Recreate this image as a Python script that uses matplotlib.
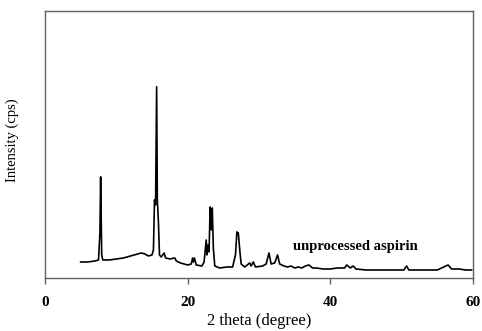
import matplotlib
matplotlib.use("Agg")
import matplotlib.pyplot as plt

# digitized XRD pattern (2 theta in degree, intensity in cps)
two_theta = [5.0, 6.0, 7.0, 7.5, 7.7, 7.8, 7.95, 8.1, 9.0, 10.0, 11.0, 12.0, 13.0, 13.5,
             14.0, 14.5, 15.0, 15.2, 15.35, 15.5, 15.65, 15.75, 15.9, 16.05, 16.3, 16.7,
             16.9, 17.5, 18.2, 18.4, 19.0, 20.0, 20.5, 20.7, 20.8, 20.95, 21.2, 22.0,
             22.3, 22.6, 22.7, 22.85, 23.0, 23.15, 23.3, 23.45, 23.6, 23.8, 24.5, 25.5,
             26.3, 26.7, 26.9, 27.1, 27.3, 27.5, 28.0, 28.7, 28.9, 29.2, 29.5, 30.5,
             31.0, 31.4, 31.7, 32.2, 32.6, 32.9, 33.5, 34.0, 34.5, 35.0, 35.5, 36.0,
             36.5, 37.0, 37.5, 38.0, 39.0, 40.0, 41.0, 42.0, 42.3, 42.8, 43.2, 43.6,
             45.0, 47.0, 49.0, 50.3, 50.7, 51.0, 53.0, 55.0, 56.5, 57.0, 58.0, 59.0, 59.8]
intensity = [480, 480, 510, 540, 1350, 3030, 690, 540, 540, 570, 600, 660, 720, 750,
             720, 660, 690, 840, 2340, 2190, 5730, 2340, 1680, 690, 630, 750,
             600, 570, 600, 510, 450, 390, 420, 600, 480, 600, 390, 360,
             480, 1140, 690, 990, 780, 2130, 1440, 2100, 900, 360, 300, 330,
             330, 690, 1380, 1350, 840, 420, 330, 450, 360, 480, 330, 360,
             420, 750, 420, 450, 690, 420, 360, 330, 360, 300, 330, 300,
             360, 390, 300, 300, 270, 270, 300, 300, 390, 300, 360, 270,
             240, 240, 240, 240, 360, 240, 240, 240, 390, 270, 270, 240, 240]

sample_label = "unprocessed aspirin"
xticks = [0, 20, 40, 60]

plt.rcParams['font.family'] = ['Liberation Serif', 'DejaVu Serif']

fig = plt.figure(figsize=(4.82, 3.31), dpi=100)
ax = fig.add_axes([45 / 482, 53 / 331, 428 / 482, 267 / 331])

ax.plot(two_theta, intensity, color='black', lw=1.2)
ax.text(34.8, 930, sample_label, fontsize=10.5, fontweight='bold', ha='left', va='center')

ax.set_xlim(0, 60)
ax.set_ylim(0, 8000)
ax.set_xticks(xticks)
ax.set_xticklabels([str(t) for t in xticks], fontsize=11, fontweight='bold')
ax.set_yticks([])
ax.tick_params(axis='x', direction='out', length=4, width=1, color='#606060', pad=9)

for s in ax.spines.values():
    s.set_color('#606060')
    s.set_linewidth(1.0)

ax.set_xlabel('2 theta (degree)', fontsize=12, labelpad=3)
ax.set_ylabel('Intensity (cps)', fontsize=10.5)
ax.yaxis.set_label_coords(-0.06, 0.517)

fig.savefig('out.png', dpi=100)
